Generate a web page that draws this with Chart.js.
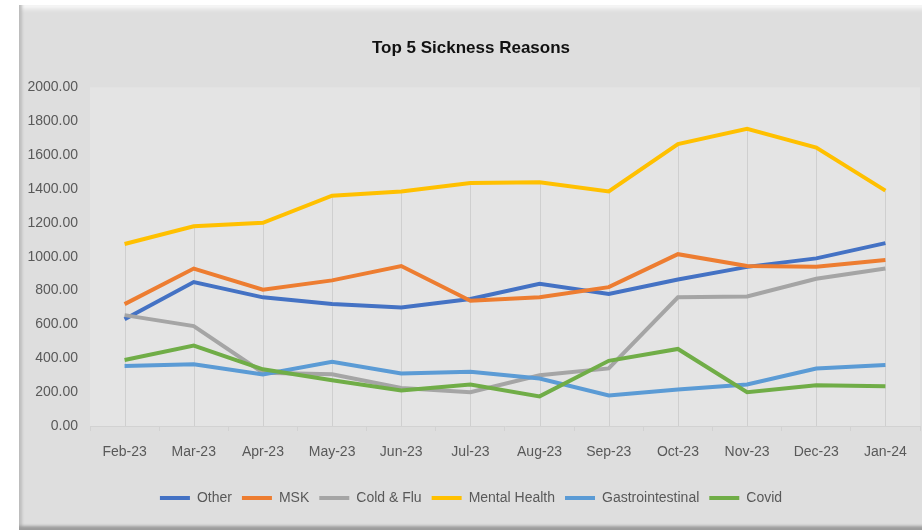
<!DOCTYPE html>
<html>
<head>
<meta charset="utf-8">
<script src="https://cdn.jsdelivr.net/npm/chart.js@4.4.1/dist/chart.umd.min.js"></script>
<style>
  html, body { margin: 0; padding: 0; background: #ffffff; }
  body { width: 922px; height: 530px; overflow: hidden; position: relative; }
  #panel {
    position: absolute; left: 19px; top: 5px; width: 912px; height: 525px;
    background: #dedede;
    box-shadow:
      inset 0 -6px 3px -2px #9c9c9c,
      inset 5px 0 3px -2px #bdbdbd,
      inset 0 8px 4px -4px #f7f7f7;
  }
  #wrap { position: absolute; left: 22px; top: 8px; width: 900px; height: 516px; }
</style>
</head>
<body>
<div id="panel"></div>
<div id="wrap"><canvas id="chart" width="900" height="516"></canvas></div>
<script>
// Monthly sickness counts by reason
const months = ['Feb-23', 'Mar-23', 'Apr-23', 'May-23', 'Jun-23', 'Jul-23',
                'Aug-23', 'Sep-23', 'Oct-23', 'Nov-23', 'Dec-23', 'Jan-24'];
const other            = [630, 850, 760, 720, 700, 750, 840, 780, 865, 940, 990, 1080];
const msk              = [720, 930, 805, 860, 945, 740, 760, 820, 1015, 945, 940, 980];
const coldFlu          = [655, 590, 315, 305, 225, 200, 300, 340, 760, 765, 870, 930];
const mentalHealth     = [1075, 1180, 1200, 1360, 1385, 1435, 1440, 1385, 1665, 1755, 1645, 1390];
const gastrointestinal = [355, 365, 305, 380, 310, 320, 280, 180, 215, 245, 340, 360];
const covid            = [390, 475, 335, 270, 210, 245, 175, 385, 455, 200, 240, 235];

const seriesNames  = ['Other', 'MSK', 'Cold & Flu', 'Mental Health', 'Gastrointestinal', 'Covid'];
const seriesValues = [other, msk, coldFlu, mentalHealth, gastrointestinal, covid];
const seriesColors = ['#4472C4', '#ED7D31', '#A5A5A5', '#FFC000', '#5B9BD5', '#70AD47'];

const FONT = "'Liberation Sans', Arial, sans-serif";
const TEXT_GREY = '#595959';

// Plot-area fill
const plotBackground = {
  id: 'plotBackground',
  beforeDraw(chart) {
    const { ctx, chartArea: a } = chart;
    ctx.save();
    ctx.fillStyle = '#e4e4e4';
    ctx.fillRect(a.left, a.top, a.right - a.left, a.bottom - a.top);
    ctx.restore();
  }
};

// Drop lines from the highest point of each month down to the axis
const dropLines = {
  id: 'dropLines',
  beforeDatasetsDraw(chart) {
    const { ctx, chartArea: a, scales } = chart;
    ctx.save();
    ctx.strokeStyle = '#cfcfcf';
    ctx.lineWidth = 1;
    months.forEach((m, i) => {
      const top = Math.max(...seriesValues.map(s => s[i]));
      const x = Math.round(scales.x.getPixelForValue(i)) + 0.5;
      ctx.beginPath();
      ctx.moveTo(x, scales.y.getPixelForValue(top));
      ctx.lineTo(x, a.bottom);
      ctx.stroke();
    });
    ctx.restore();
  }
};

new Chart(document.getElementById('chart'), {
  type: 'line',
  data: {
    labels: months,
    datasets: seriesNames.map((name, i) => ({
      label: name,
      data: seriesValues[i],
      borderColor: seriesColors[i],
      backgroundColor: seriesColors[i],
      borderWidth: 4,
      pointRadius: 0,
      tension: 0,
      order: seriesNames.length - i
    }))
  },
  options: {
    responsive: false,
    animation: false,
    layout: { padding: { top: 0, left: 0, right: 2, bottom: 9 } },
    plugins: {
      title: {
        display: true,
        text: 'Top 5 Sickness Reasons',
        color: '#111111',
        font: { family: FONT, size: 17, weight: 'bold', lineHeight: 1.2 },
        padding: { top: 30, bottom: 29 }
      },
      legend: {
        position: 'bottom',
        labels: {
          color: TEXT_GREY,
          font: { family: FONT, size: 14 },
          boxWidth: 30,
          boxHeight: 4,
          padding: 10,
          sort: (a, b) => a.datasetIndex - b.datasetIndex,
          generateLabels(chart) {
            return chart.data.datasets.map((d, i) => ({
              text: d.label,
              fillStyle: d.borderColor,
              strokeStyle: d.borderColor,
              lineWidth: 0,
              fontColor: TEXT_GREY,
              datasetIndex: i,
              hidden: false
            }));
          }
        }
      },
      tooltip: { enabled: false }
    },
    scales: {
      x: {
        offset: true,
        grid: {
          offset: true,
          drawOnChartArea: false,
          drawTicks: true,
          tickLength: 5,
          color: '#d2d2d2'
        },
        border: { display: true, color: '#d2d2d2' },
        ticks: {
          color: TEXT_GREY,
          font: { family: FONT, size: 14 },
          padding: 13,
          maxRotation: 0,
          autoSkip: false
        },
        afterFit(scale) { scale.height = 55; }
      },
      y: {
        min: 0,
        max: 2000,
        grid: { display: false },
        border: { display: false },
        ticks: {
          stepSize: 200,
          color: TEXT_GREY,
          font: { family: FONT, size: 14 },
          padding: 4,
          callback: v => Number(v).toFixed(2)
        },
        afterFit(scale) { scale.width = 68; }
      }
    }
  },
  plugins: [plotBackground, dropLines]
});
</script>
</body>
</html>
